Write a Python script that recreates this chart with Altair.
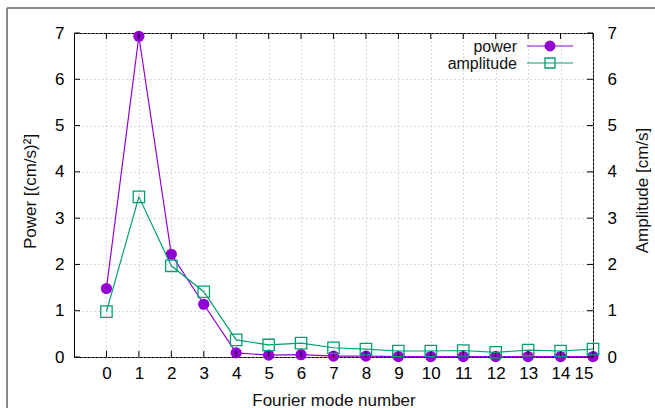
import altair as alt
import pandas as pd

modes = list(range(16))
power = [1.48, 6.93, 2.22, 1.14, 0.09, 0.04, 0.05, 0.02, 0.02, 0.01, 0.01, 0.01, 0.01, 0.01, 0.01, 0.01]
amplitude = [0.98, 3.46, 1.97, 1.41, 0.37, 0.26, 0.30, 0.20, 0.17, 0.13, 0.13, 0.14, 0.10, 0.15, 0.13, 0.17]
x_ticks = list(range(16))
y_ticks = list(range(8))
legend_labels = ["power", "amplitude"]

PURPLE = "#9400d3"
GREEN = "#009e73"
FONT = "Liberation Sans"
FS = 17
W, H = 519, 324

df = pd.DataFrame({"mode": modes, "power": power, "amplitude": amplitude})
xt = pd.DataFrame({"t": x_ticks})
yt = pd.DataFrame({"t": y_ticks})

xscale = alt.Scale(domain=[-1, 15], nice=False, zero=False)
yscale = alt.Scale(domain=[0, 7], nice=False)

common = dict(labelFontSize=FS, titleFontSize=FS, titleFontWeight="normal",
              labelFont=FONT, titleFont=FONT, labelColor="black", titleColor="#111111",
              tickSize=0, domain=False)

x_axis = alt.Axis(values=x_ticks, title="Fourier mode number", labelPadding=8,
                  titleX=W / 2, titleY=43, titleAlign="center", titleBaseline="middle",
                  grid=True, gridDash=[1, 3], gridColor="#b4b4b4", **common)

left_axis = alt.Axis(values=y_ticks, title="Power [(cm/s)²]", labelPadding=10,
                     titleX=-44, titleY=158, titleAngle=270, titleAlign="center",
                     titleBaseline="middle",
                     grid=True, gridDash=[1, 3], gridColor="#b4b4b4", **common)

right_axis = alt.Axis(values=y_ticks, title="Amplitude [cm/s]", orient="right", labelPadding=14,
                      titleX=49, titleY=157, titleAngle=270, titleAlign="center",
                      titleBaseline="middle", grid=False, **common)


def X(field):
    return alt.X(field, scale=xscale, axis=x_axis, title="Fourier mode number")


def YL(field):
    return alt.Y(field, scale=yscale, axis=left_axis, title="Power [(cm/s)²]")


def YR(field):
    return alt.Y(field, scale=yscale, axis=right_axis, title="Amplitude [cm/s]")


base = alt.Chart(df)

p_line = base.mark_line(color=PURPLE, strokeWidth=1.2).encode(x=X("mode:Q"), y=YL("power:Q"))
p_pts = base.mark_point(shape="circle", filled=True, color=PURPLE, size=125, opacity=1).encode(
    x=X("mode:Q"), y=YL("power:Q"))

# inward ticks
xt_bottom = alt.Chart(xt).mark_rule(color="black", strokeWidth=1).encode(
    x=X("t:Q"), y=alt.value(H), y2=alt.value(H - 6))
xt_top = alt.Chart(xt).mark_rule(color="black", strokeWidth=1).encode(
    x=X("t:Q"), y=alt.value(0), y2=alt.value(6))
yt_left = alt.Chart(yt).mark_rule(color="black", strokeWidth=1).encode(
    y=YL("t:Q"), x=alt.value(0), x2=alt.value(6))

# legend
LFS = 16
leg_df = pd.DataFrame({"label": legend_labels})
leg_p_text = alt.Chart(leg_df.iloc[[0]]).mark_text(align="right", baseline="middle", fontSize=LFS,
                                                   font=FONT, color="#111111").encode(
    x=alt.value(443), y=alt.value(14), text="label:N")
leg_a_text = alt.Chart(leg_df.iloc[[1]]).mark_text(align="right", baseline="middle", fontSize=LFS,
                                                   font=FONT, color="#111111").encode(
    x=alt.value(443), y=alt.value(31), text="label:N")
leg_p_line = alt.Chart(leg_df.iloc[[0]]).mark_rule(color=PURPLE, strokeWidth=1.2).encode(
    x=alt.value(453), x2=alt.value(499), y=alt.value(13))
leg_a_line = alt.Chart(leg_df.iloc[[1]]).mark_rule(color=GREEN, strokeWidth=1.2).encode(
    x=alt.value(453), x2=alt.value(499), y=alt.value(30))
leg_p_pt = alt.Chart(leg_df.iloc[[0]]).mark_point(shape="circle", filled=True, color=PURPLE,
                                                  size=120, opacity=1).encode(
    x=alt.value(476), y=alt.value(13))
leg_a_pt = alt.Chart(leg_df.iloc[[1]]).mark_point(shape="square", filled=False, color=GREEN,
                                                  size=100, strokeWidth=1.3, opacity=1).encode(
    x=alt.value(476), y=alt.value(30))

# outer frame (screenshot border)
frame_v = alt.Chart(leg_df.iloc[[0]]).mark_rule(color="#8a8a8a", strokeWidth=2).encode(
    x=alt.value(-67), y=alt.value(-25), y2=alt.value(H + 60))
frame_h = alt.Chart(leg_df.iloc[[0]]).mark_rule(color="#8a8a8a", strokeWidth=2).encode(
    x=alt.value(-67), x2=alt.value(W + 70), y=alt.value(-25))

left = alt.layer(p_line, p_pts, xt_bottom, xt_top, yt_left, frame_v, frame_h)

a_line = base.mark_line(color=GREEN, strokeWidth=1.2).encode(x=X("mode:Q"), y=YR("amplitude:Q"))
a_pts = base.mark_point(shape="square", filled=False, color=GREEN, size=130, strokeWidth=1.3,
                        opacity=1).encode(x=X("mode:Q"), y=YR("amplitude:Q"))
yt_right = alt.Chart(yt).mark_rule(color="black", strokeWidth=1).encode(
    y=YR("t:Q"), x=alt.value(W), x2=alt.value(W - 6))

right = alt.layer(a_line, a_pts, yt_right, leg_p_text, leg_a_text, leg_p_line, leg_a_line,
                  leg_p_pt, leg_a_pt)

chart = alt.layer(left, right).resolve_scale(y="independent").properties(
    width=W, height=H,
    autosize=alt.AutoSizeParams(type="none"),
    padding={"left": 74, "top": 33, "right": 62, "bottom": 51},
    background="white",
).configure_view(stroke="black", strokeWidth=1)

chart.save("out.html", embed_options={"renderer": "svg", "actions": False})
